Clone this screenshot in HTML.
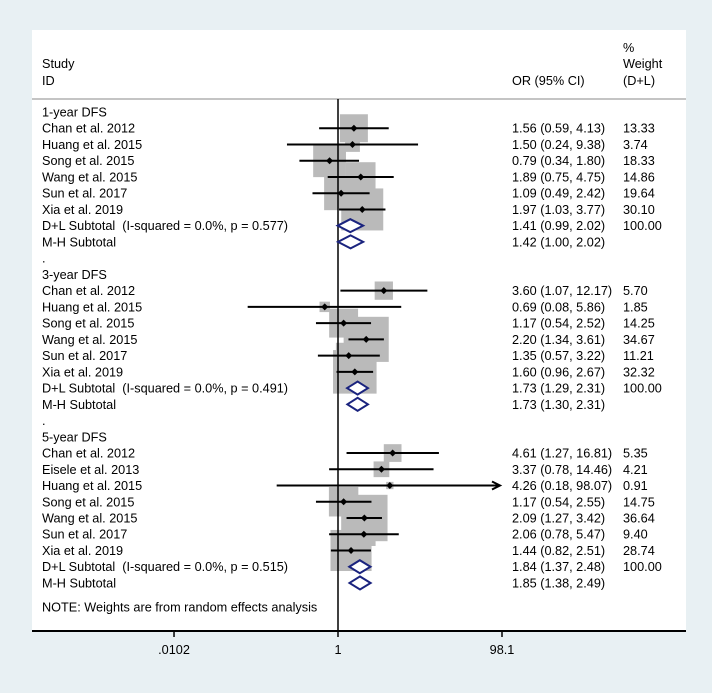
<!DOCTYPE html>
<html><head><meta charset="utf-8"><style>
html,body{margin:0;padding:0;background:#e8f0f3;}
svg{display:block;font-family:"Liberation Sans",Arial,sans-serif;}
text{white-space:pre;}
</style></head><body>
<svg id="chart" width="712" height="693" viewBox="0 0 712 693" xmlns="http://www.w3.org/2000/svg">
<rect x="0" y="0" width="712" height="693" fill="#e8f0f3"/>
<rect x="32" y="30" width="654" height="601" fill="#ffffff"/>
<g font-size="12.7" fill="#000">
<text x="42" y="68">Study</text>
<text x="42" y="85">ID</text>
<text x="512" y="85">OR (95% CI)</text>
<text x="623" y="52">%</text>
<text x="623" y="68">Weight</text>
<text x="623" y="85">(D+L)</text>
</g>
<line x1="32" y1="99" x2="686" y2="99" stroke="#b0b0b0" stroke-width="1.5"/>
<g id="boxes"></g>
<line id="nullline" x1="338" y1="99" x2="338" y2="631" stroke="#000" stroke-width="1.5"/>
<g id="marks"></g>
<g id="texts" font-size="12.7" fill="#000"></g>
<line x1="32" y1="631" x2="686" y2="631" stroke="#000" stroke-width="2"/>
<g id="axis" font-size="12.7" fill="#000"></g>
</svg>
<script>
const rowLabels = ["1-year DFS","Chan et al. 2012","Huang et al. 2015","Song et al. 2015","Wang et al. 2015","Sun et al. 2017","Xia et al. 2019","D+L Subtotal  (I-squared = 0.0%, p = 0.577)","M-H Subtotal",".",
"3-year DFS","Chan et al. 2012","Huang et al. 2015","Song et al. 2015","Wang et al. 2015","Sun et al. 2017","Xia et al. 2019","D+L Subtotal  (I-squared = 0.0%, p = 0.491)","M-H Subtotal",".",
"5-year DFS","Chan et al. 2012","Eisele et al. 2013","Huang et al. 2015","Song et al. 2015","Wang et al. 2015","Sun et al. 2017","Xia et al. 2019","D+L Subtotal  (I-squared = 0.0%, p = 0.515)","M-H Subtotal"];
const rowType = ["h","s","s","s","s","s","s","d","d","g","h","s","s","s","s","s","s","d","d","g","h","s","s","s","s","s","s","s","d","d"];
const orValues = [null,1.56,1.50,0.79,1.89,1.09,1.97,1.41,1.42,null,null,3.60,0.69,1.17,2.20,1.35,1.60,1.73,1.73,null,null,4.61,3.37,4.26,1.17,2.09,2.06,1.44,1.84,1.85];
const lowValues = [null,0.59,0.24,0.34,0.75,0.49,1.03,0.99,1.00,null,null,1.07,0.08,0.54,1.34,0.57,0.96,1.29,1.30,null,null,1.27,0.78,0.18,0.54,1.27,0.78,0.82,1.37,1.38];
const highValues = [null,4.13,9.38,1.80,4.75,2.42,3.77,2.02,2.02,null,null,12.17,5.86,2.52,3.61,3.22,2.67,2.31,2.31,null,null,16.81,14.46,98.07,2.55,3.42,5.47,2.51,2.48,2.49];
const weightValues = [null,13.33,3.74,18.33,14.86,19.64,30.10,100.00,null,null,null,5.70,1.85,14.25,34.67,11.21,32.32,100.00,null,null,null,5.35,4.21,0.91,14.75,36.64,9.40,28.74,100.00,null];
const tickValues = [0.0102,1,98.1];
const tickLabels = [".0102","1","98.1"];

const NS="http://www.w3.org/2000/svg";
const X0=338, PPD=164/Math.log10(98.1);
function xs(v){return X0+Math.log10(v)*PPD;}
function ys(i){return 112+i*16.24;}
function mk(tag,attrs,parent){const e=document.createElementNS(NS,tag);for(const k in attrs)e.setAttribute(k,attrs[k]);parent.appendChild(e);return e;}
const boxes=document.getElementById('boxes'),marks=document.getElementById('marks'),texts=document.getElementById('texts'),axis=document.getElementById('axis');
const fmt=v=>v.toFixed(2);
for(let i=0;i<rowLabels.length;i++){
  const y=ys(i);
  const t=mk('text',{x:42,y:y+4.5},texts);
  
  
  t.textContent=rowLabels[i];
  if(orValues[i]!=null){
    const ot=mk('text',{x:512,y:y+4.5},texts);
    
    
    ot.textContent=fmt(orValues[i])+" ("+fmt(lowValues[i])+", "+fmt(highValues[i])+")";
  }
  if(weightValues[i]!=null){
    const wt=mk('text',{x:623,y:y+4.5},texts);
    
    
    wt.textContent=fmt(weightValues[i]);
  }
  if(rowType[i]==='s'){
    const cx=xs(orValues[i]), s=7.66*Math.sqrt(weightValues[i]);
    const b=mk('rect',{x:cx-s/2,y:y-s/2,width:s,height:s,fill:'#bababa'},boxes);
    
    
    const hx=Math.min(xs(highValues[i]),xs(98.1)-2);
    const l=mk('line',{x1:xs(lowValues[i]),y1:y,x2:hx,y2:y,stroke:'#000','stroke-width':2},marks);
    
    
    if(highValues[i]>=98){
      const a=mk('path',{d:`M${hx-8},${y-4} L${hx},${y} L${hx-8},${y+4}`,fill:'none',stroke:'#000','stroke-width':2},marks);
      
      
    }
    const p=mk('path',{d:`M${cx-3.5},${y} L${cx},${y-3.5} L${cx+3.5},${y} L${cx},${y+3.5}Z`,fill:'#000'},marks);
    
    
  } else if(rowType[i]==='d'){
    const a=xs(lowValues[i]),c=xs(orValues[i]),b=xs(highValues[i]);
    const d=mk('path',{d:`M${a},${y} L${c},${y-6.5} L${b},${y} L${c},${y+6.5}Z`,fill:'#fff',stroke:'#1a237e','stroke-width':2},marks);
    
    
  }
}
const note=mk('text',{x:42,y:611.5},texts);


note.textContent="NOTE: Weights are from random effects analysis";
for(let k=0;k<tickValues.length;k++){
  const x=xs(tickValues[k]);
  const tk=mk('line',{x1:x,y1:631,x2:x,y2:637,stroke:'#000','stroke-width':1.5},axis);
  
  
  const tl=mk('text',{x:x,y:654,'text-anchor':'middle'},axis);
  
  
  tl.textContent=tickLabels[k];
}
</script>
</body></html>
